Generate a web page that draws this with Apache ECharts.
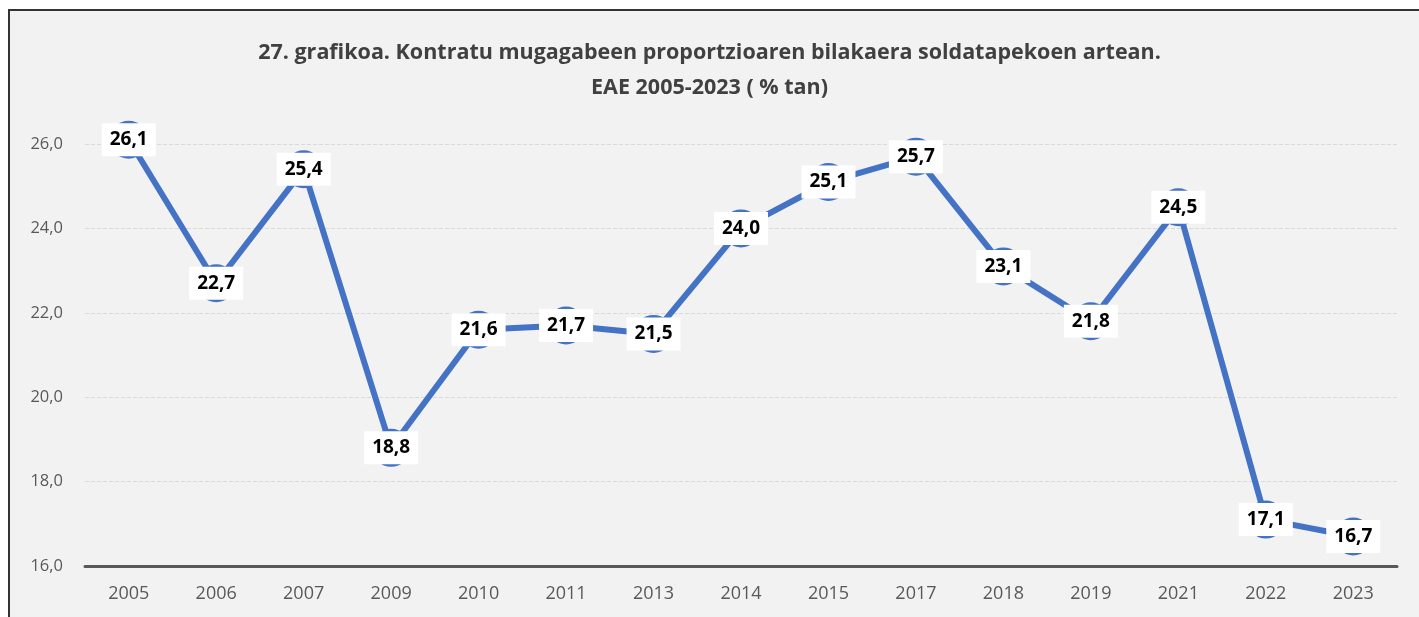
<!DOCTYPE html>
<html><head><meta charset="utf-8">
<script src="https://cdn.jsdelivr.net/npm/echarts@6/dist/echarts.min.js"></script>
<style>
html,body{margin:0;padding:0;background:#fff;}
#frame{position:absolute;left:8px;top:9px;width:1411px;height:608px;border-left:2px solid #333;border-top:2px solid #333;background:#f2f2f2;box-sizing:border-box;}
#c{position:absolute;left:0;top:0;width:1419px;height:617px;}
</style></head>
<body>
<div id="frame"></div>
<div id="c"></div>
<script>
const categories = ['2005','2006','2007','2009','2010','2011','2013','2014','2015','2017','2018','2019','2021','2022','2023'];
const values = [26.1,22.7,25.4,18.8,21.6,21.7,21.5,24.0,25.1,25.7,23.1,21.8,24.5,17.1,16.7];
const titleLines = ['27. grafikoa. Kontratu mugagabeen proportzioaren bilakaera soldatapekoen artean.','EAE 2005-2023 ( % tan)'];
const fmt = v => v.toFixed(1).replace('.', ',');
const chart = echarts.init(document.getElementById('c'));
const fontFam = '"Open Sans","Noto Sans",sans-serif';
chart.setOption({
  backgroundColor: 'transparent',
  title: {
    text: titleLines.join('\n'),
    left: 'center', top: 30,
    textStyle: {fontFamily: fontFam, fontWeight: 'bold', fontSize: 21.5, color: '#404040', lineHeight: 35}
  },
  grid: {left: 85, right: 22, top: 144, bottom: 51},
  xAxis: {
    type: 'category', data: categories,
    axisLine: {lineStyle: {color: '#595959', width: 3}},
    axisTick: {show: false},
    axisLabel: {color: '#595959', fontSize: 18, margin: 19, fontFamily: fontFam}
  },
  yAxis: {
    type: 'value', min: 16, max: 26, interval: 2,
    axisLine: {show: false}, axisTick: {show: false},
    axisLabel: {color: '#595959', fontSize: 16.5, margin: 22, formatter: fmt, fontFamily: fontFam}
  ,
    splitLine: {lineStyle: {color: '#d9d9d9', type: 'dashed', width: 1}}
  },
  series: [{
    type: 'line', data: values, clip: false,
    symbol: 'circle', symbolSize: 38,
    lineStyle: {color: '#4472c4', width: 6},
    itemStyle: {color: '#4472c4'},
    z: 3,
    label: {
      show: true, position: 'inside', formatter: p => fmt(p.value),
      backgroundColor: '#ffffff', padding: [8, 8, 6, 8],
      color: '#000', fontWeight: 'bold', fontSize: 19, fontFamily: fontFam
    }
  }],
  animation: false
});
</script>
</body></html>
